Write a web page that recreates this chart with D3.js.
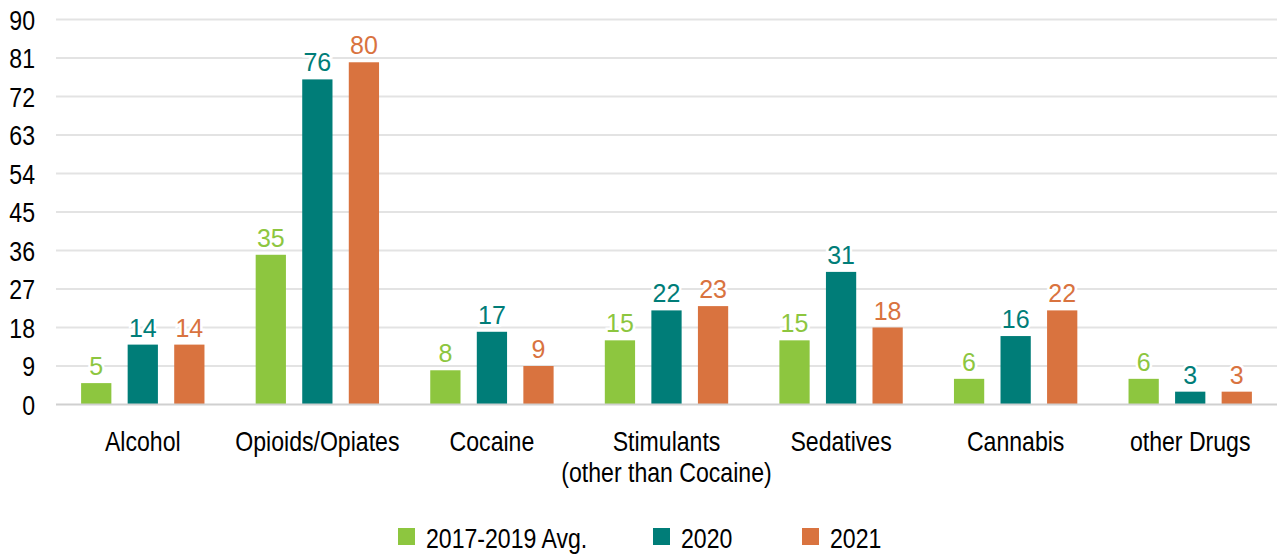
<!DOCTYPE html>
<html><head><meta charset="utf-8">
<script src="https://cdn.jsdelivr.net/npm/d3@7"></script>
<style>
html,body{margin:0;padding:0;background:#fff;}
svg{display:block;}
</style>
</head><body>
<svg id="chart" width="1277" height="554"></svg>
<script>
const categories = ["Alcohol", "Opioids/Opiates", "Cocaine", "Stimulants\n(other than Cocaine)", "Sedatives", "Cannabis", "other Drugs"];
const seriesNames = ["2017-2019 Avg.", "2020", "2021"];
const avg2017_2019 = [5, 35, 8, 15, 15, 6, 6];
const values2020 = [14, 76, 17, 22, 31, 16, 3];
const values2021 = [14, 80, 9, 23, 18, 22, 3];
const yTicks = [0, 9, 18, 27, 36, 45, 54, 63, 72, 81, 90];
const colors = ["#8DC63F", "#007D78", "#D9733F"];

const series = [avg2017_2019, values2020, values2021];
const svg = d3.select("#chart");
const FONT = "'Liberation Sans', Arial, sans-serif";
const SX = 0.81;
const FS = 28.5;

function condText(parent, x, y, anchor, str) {
  const g = parent.append("g").attr("transform", `translate(${x},${y}) scale(${SX},1)`);
  return g.append("text").attr("x", 0).attr("y", 0).attr("text-anchor", anchor)
    .attr("font-family", FONT).attr("font-size", FS).attr("fill", "#000").text(str);
}

const x0 = d3.scaleBand().domain(categories).range([55.5, 1277.5]).paddingInner(0).paddingOuter(0);
const x1 = d3.scaleBand().domain(seriesNames).range([0, x0.bandwidth()]).paddingInner(0.35).paddingOuter(0.55);
const y = d3.scaleLinear().domain([0, 90]).range([404.5, 19.5]);

const yAxis = d3.axisLeft(y).tickValues(yTicks).tickSize(0).tickPadding(0).tickFormat(d3.format("d"));
const gy = svg.append("g").attr("transform", "translate(35,0)").call(yAxis);
gy.select(".domain").remove();
gy.attr("font-family", FONT).attr("font-size", FS);
gy.selectAll("text").attr("fill", "#000").attr("dy", "0.35em").attr("transform", `scale(${SX},1)`);

svg.append("g").selectAll("line").data(yTicks.filter(d => d > 0)).join("line")
  .attr("x1", 56).attr("x2", 1277).attr("y1", d => y(d)).attr("y2", d => y(d))
  .attr("stroke", "#e3e3e3").attr("stroke-width", 2);

const groups = svg.append("g").selectAll("g").data(categories).join("g")
  .attr("transform", c => `translate(${x0(c)},0)`);
groups.each(function(c, ci) {
  const g = d3.select(this);
  seriesNames.forEach((s, si) => {
    const v = series[si][ci];
    g.append("rect").attr("x", x1(s)).attr("width", x1.bandwidth())
      .attr("y", y(v)).attr("height", y(0) - y(v)).attr("fill", colors[si]);
  });
});

svg.append("line").attr("x1", 56).attr("x2", 1277).attr("y1", y(0)).attr("y2", y(0))
  .attr("stroke", "#d0d0d0").attr("stroke-width", 2);

groups.each(function(c, ci) {
  const g = d3.select(this);
  seriesNames.forEach((s, si) => {
    const v = series[si][ci];
    g.append("text").attr("x", x1(s) + x1.bandwidth() / 2).attr("y", y(v) - 8)
      .attr("text-anchor", "middle").attr("font-family", FONT)
      .attr("font-size", 25).attr("fill", colors[si])
      .attr("stroke", "#fff").attr("stroke-width", 5).attr("paint-order", "stroke")
      .text(v);
  });
});

const xAxis = svg.append("g");
categories.forEach(c => {
  const cx = x0(c) + x0.bandwidth() / 2;
  c.split("\n").forEach((l, i) => condText(xAxis, cx, 451 + i * 31, "middle", l));
});

const legendX = [398, 653, 802];
const legend = svg.append("g");
seriesNames.forEach((s, i) => {
  legend.append("rect").attr("x", legendX[i]).attr("y", 528).attr("width", 17).attr("height", 17).attr("fill", colors[i]);
  condText(legend, legendX[i] + 28, 548, "start", s);
});
</script>
</body></html>
